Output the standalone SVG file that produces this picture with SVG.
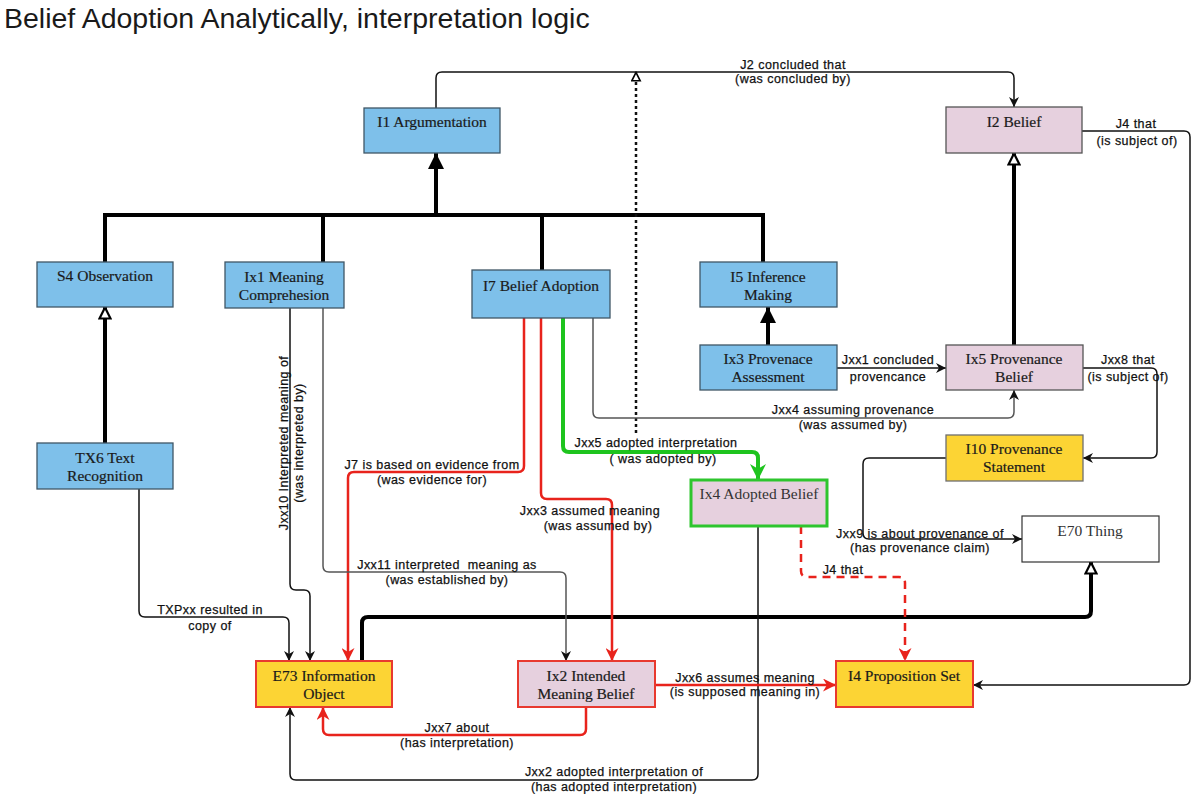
<svg xmlns="http://www.w3.org/2000/svg" width="1200" height="794" viewBox="0 0 1200 794">
<style>
.nb{fill:#7ec0ea;stroke:#3f5666;stroke-width:1.3}
.np{fill:#e6d0de;stroke:#555;stroke-width:1.3}
.ny{fill:#fcd434;stroke:#6f6f6f;stroke-width:1.3}
.nyr{fill:#fcd434;stroke:#e8392f;stroke-width:2}
.npr{fill:#e6d0de;stroke:#e8392f;stroke-width:2}
.npg{fill:#e6d0de;stroke:#2ec52e;stroke-width:3}
.nw{fill:#fff;stroke:#333;stroke-width:1.2}
.nt{font-family:"Liberation Serif",serif;font-size:15.5px;fill:#1a1a1a;stroke:#1a1a1a;stroke-width:0.2;text-anchor:middle}
.nt2{font-family:"Liberation Serif",serif;font-size:15.5px;fill:#333;text-anchor:middle}
.el{font-family:"Liberation Sans",Arial,sans-serif;font-size:12.5px;letter-spacing:0.45px;fill:#111;stroke:#111;stroke-width:0.25;text-anchor:middle}
.c{fill:none;stroke:#111;stroke-width:1.5}
.cg{fill:none;stroke:#555;stroke-width:1.5}
.ct{fill:none;stroke:#000;stroke-width:4}
.cr{fill:none;stroke:#e8231c;stroke-width:2.5}
.crd{fill:none;stroke:#e8231c;stroke-width:2.5;stroke-dasharray:8 6}
.cgr{fill:none;stroke:#1ec41e;stroke-width:4}
.cd{fill:none;stroke:#111;stroke-width:2.5;stroke-dasharray:3 3}
</style>
<defs>
<marker id="a" viewBox="0 0 10 10" refX="10" refY="5" markerWidth="10" markerHeight="10" markerUnits="userSpaceOnUse" orient="auto"><path d="M0,0 L10,5 L0,10 L3,5 Z" fill="#111"/></marker>
<marker id="ar" viewBox="0 0 10 10" refX="10" refY="5" markerWidth="13" markerHeight="13" markerUnits="userSpaceOnUse" orient="auto"><path d="M0,0 L10,5 L0,10 L3,5 Z" fill="#e8231c"/></marker>
<marker id="ag" viewBox="0 0 10 10" refX="10" refY="5" markerWidth="16" markerHeight="16" markerUnits="userSpaceOnUse" orient="auto"><path d="M0,0 L10,5 L0,10 L3,5 Z" fill="#1ec41e"/></marker>
<marker id="bf" viewBox="0 0 16 16" refX="16" refY="8" markerWidth="16" markerHeight="16" markerUnits="userSpaceOnUse" orient="auto"><path d="M0,0 L16,8 L0,16 Z" fill="#000"/></marker>
<marker id="bo" viewBox="0 0 14 14" refX="13" refY="7" markerWidth="14" markerHeight="14" markerUnits="userSpaceOnUse" orient="auto"><path d="M1.5,1.5 L12.5,7 L1.5,12.5 Z" fill="#fff" stroke="#000" stroke-width="2.2"/></marker>
<marker id="bos" viewBox="0 0 12 12" refX="11" refY="6" markerWidth="11" markerHeight="11" markerUnits="userSpaceOnUse" orient="auto"><path d="M1.5,1.5 L10.5,6 L1.5,10.5 Z" fill="#fff" stroke="#000" stroke-width="1.8"/></marker>
</defs>
<rect width="1200" height="794" fill="#fff"/>
<text x="4" y="28" font-family="'Liberation Sans',Arial,sans-serif" font-size="28.5" fill="#1a1a1a">Belief Adoption Analytically, interpretation logic</text>

<g id="connectors">
<path class="ct" d="M105,262 V215 H763 V262 M323,215 V262 M542,215 V270"/>
<path class="ct" d="M436,215 V153" marker-end="url(#bf)"/>
<path class="ct" d="M768,345 V307" marker-end="url(#bf)"/>
<path class="ct" d="M1014,345 V153" marker-end="url(#bo)"/>
<path class="ct" d="M105,443 V307" marker-end="url(#bo)"/>
<path class="ct" d="M362,661 V623 Q362,617 368,617 H1085 Q1091,617 1091,611 V562" marker-end="url(#bo)"/>
<path class="cd" d="M636,433 V72" marker-end="url(#bos)"/>
<path class="c" d="M436,108 V78 Q436,72 442,72 H1008 Q1014,72 1014,78 V107" marker-end="url(#a)"/>
<path class="c" d="M1082,131 H1184 Q1190,131 1190,137 V679 Q1190,685 1184,685 H973" marker-end="url(#a)"/>
<path class="c" d="M837,368 H946" marker-end="url(#a)"/>
<path class="c" d="M1083,368 H1151 Q1157,368 1157,374 V452 Q1157,458 1151,458 H1083" marker-end="url(#a)"/>
<path class="cg" d="M593,318 V412 Q593,418 599,418 H1008 Q1014,418 1014,412 V390" marker-end="url(#a)"/>
<path class="c" d="M946,458 H869 Q863,458 863,464 V533 Q863,539 869,539 H1022" marker-end="url(#a)"/>
<path class="cgr" d="M563,318 V446 Q563,452 569,452 H752 Q758,452 758,458 V480" marker-end="url(#ag)"/>
<path class="cr" d="M524,318 V466 Q524,472 518,472 H354 Q348,472 348,478 V661" marker-end="url(#ar)"/>
<path class="cr" d="M541,318 V493 Q541,499 547,499 H606 Q612,499 612,505 V661" marker-end="url(#ar)"/>
<path class="c" d="M290,308 V584 Q290,590 296,590 H304 Q310,590 310,596 V661" marker-end="url(#a)"/>
<path class="cg" d="M323,308 V566 Q323,572 329,572 H560 Q566,572 566,578 V661" marker-end="url(#a)"/>
<path class="c" d="M139,489 V611 Q139,617 145,617 H283 Q289,617 289,623 V661" marker-end="url(#a)"/>
<path class="cr" d="M586,707 V729 Q586,735 580,735 H329 Q323,735 323,729 V707" marker-end="url(#ar)"/>
<path class="c" d="M758,526 V774 Q758,780 752,780 H296 Q290,780 290,774 V707" marker-end="url(#a)"/>
<path class="cr" d="M655,685 H836" marker-end="url(#ar)"/>
<path class="crd" d="M801,526 V571 Q801,577 807,577 H899 Q905,577 905,583 V661" marker-end="url(#ar)"/>
</g>

<g id="edge-labels">
<text class="el" x="793" y="69">J2 concluded that</text>
<text class="el" x="793" y="83">(was concluded by)</text>
<text class="el" x="1136" y="128">J4 that</text>
<text class="el" x="1137" y="145">(is subject of)</text>
<text class="el" x="888" y="364">Jxx1 concluded</text>
<text class="el" x="888" y="381">provencance</text>
<text class="el" x="1128" y="364">Jxx8 that</text>
<text class="el" x="1128" y="381">(is subject of)</text>
<text class="el" x="853" y="414">Jxx4 assuming provenance</text>
<text class="el" x="853" y="429">(was assumed by)</text>
<text class="el" x="920" y="538">Jxx9 is about provenance of</text>
<text class="el" x="920" y="552">(has provenance claim)</text>
<text class="el" x="656" y="447">Jxx5 adopted interpretation</text>
<text class="el" x="663" y="463">( was adopted by)</text>
<text class="el" x="432" y="469">J7 is based on evidence from</text>
<text class="el" x="432" y="484">(was evidence for)</text>
<text class="el" x="590" y="515">Jxx3 assumed meaning</text>
<text class="el" x="598" y="530">(was assumed by)</text>
<text class="el" x="447" y="569" xml:space="preserve">Jxx11 interpreted  meaning as</text>
<text class="el" x="447" y="584">(was established by)</text>
<text class="el" x="210" y="614">TXPxx resulted in</text>
<text class="el" x="210" y="630">copy of</text>
<text class="el" x="457" y="732">Jxx7 about</text>
<text class="el" x="457" y="747">(has interpretation)</text>
<text class="el" x="614" y="776">Jxx2 adopted interpretation of</text>
<text class="el" x="614" y="791">(has adopted interpretation)</text>
<text class="el" x="745" y="682">Jxx6 assumes meaning</text>
<text class="el" x="745" y="696">(is supposed meaning in)</text>
<text class="el" x="843" y="574">J4 that</text>
<g transform="translate(288,443) rotate(-90)">
<text class="el" x="0" y="0">Jxx10 Interpreted meaning of</text>
<text class="el" x="0" y="15">(was interpreted by)</text>
</g>
</g>

<g id="I1"><rect class="nb" x="364" y="108" width="136" height="45"/><text class="nt" x="432" y="127">I1 Argumentation</text></g>
<g id="I2"><rect class="np" x="946" y="107" width="136" height="46"/><text class="nt" x="1014" y="127">I2 Belief</text></g>
<g id="S4"><rect class="nb" x="37" y="262" width="136" height="45"/><text class="nt" x="105" y="281">S4 Observation</text></g>
<g id="Ix1"><rect class="nb" x="225" y="262" width="119" height="46"/><text class="nt" x="284" y="282">Ix1 Meaning</text><text class="nt" x="284" y="300">Comprehesion</text></g>
<g id="I7"><rect class="nb" x="472" y="270" width="138" height="48"/><text class="nt" x="541" y="291">I7 Belief Adoption</text></g>
<g id="I5"><rect class="nb" x="700" y="262" width="137" height="45"/><text class="nt" x="768" y="282">I5 Inference</text><text class="nt" x="768" y="300">Making</text></g>
<g id="Ix3"><rect class="nb" x="700" y="345" width="137" height="45"/><text class="nt" x="768" y="364">Ix3 Provenace</text><text class="nt" x="768" y="382">Assessment</text></g>
<g id="Ix5"><rect class="np" x="946" y="345" width="137" height="45"/><text class="nt" x="1014" y="364">Ix5 Provenance</text><text class="nt" x="1014" y="382">Belief</text></g>
<g id="I10"><rect class="ny" x="946" y="435" width="137" height="46"/><text class="nt" x="1014" y="454">I10 Provenance</text><text class="nt" x="1014" y="472">Statement</text></g>
<g id="TX6"><rect class="nb" x="37" y="443" width="136" height="46"/><text class="nt" x="105" y="463">TX6 Text</text><text class="nt" x="105" y="481">Recognition</text></g>
<g id="Ix4"><rect class="npg" x="691" y="480" width="136" height="46"/><text class="nt2" x="759" y="499">Ix4 Adopted Belief</text></g>
<g id="E70"><rect class="nw" x="1022" y="516" width="137" height="46"/><text class="nt2" x="1090" y="536">E70 Thing</text></g>
<g id="E73"><rect class="nyr" x="256" y="661" width="136" height="46"/><text class="nt" x="324" y="681">E73 Information</text><text class="nt" x="324" y="699">Object</text></g>
<g id="Ix2"><rect class="npr" x="518" y="661" width="137" height="46"/><text class="nt" x="586" y="681">Ix2 Intended</text><text class="nt" x="586" y="699">Meaning Belief</text></g>
<g id="I4"><rect class="nyr" x="836" y="661" width="137" height="46"/><text class="nt" x="904" y="681">I4 Proposition Set</text></g>
</svg>
